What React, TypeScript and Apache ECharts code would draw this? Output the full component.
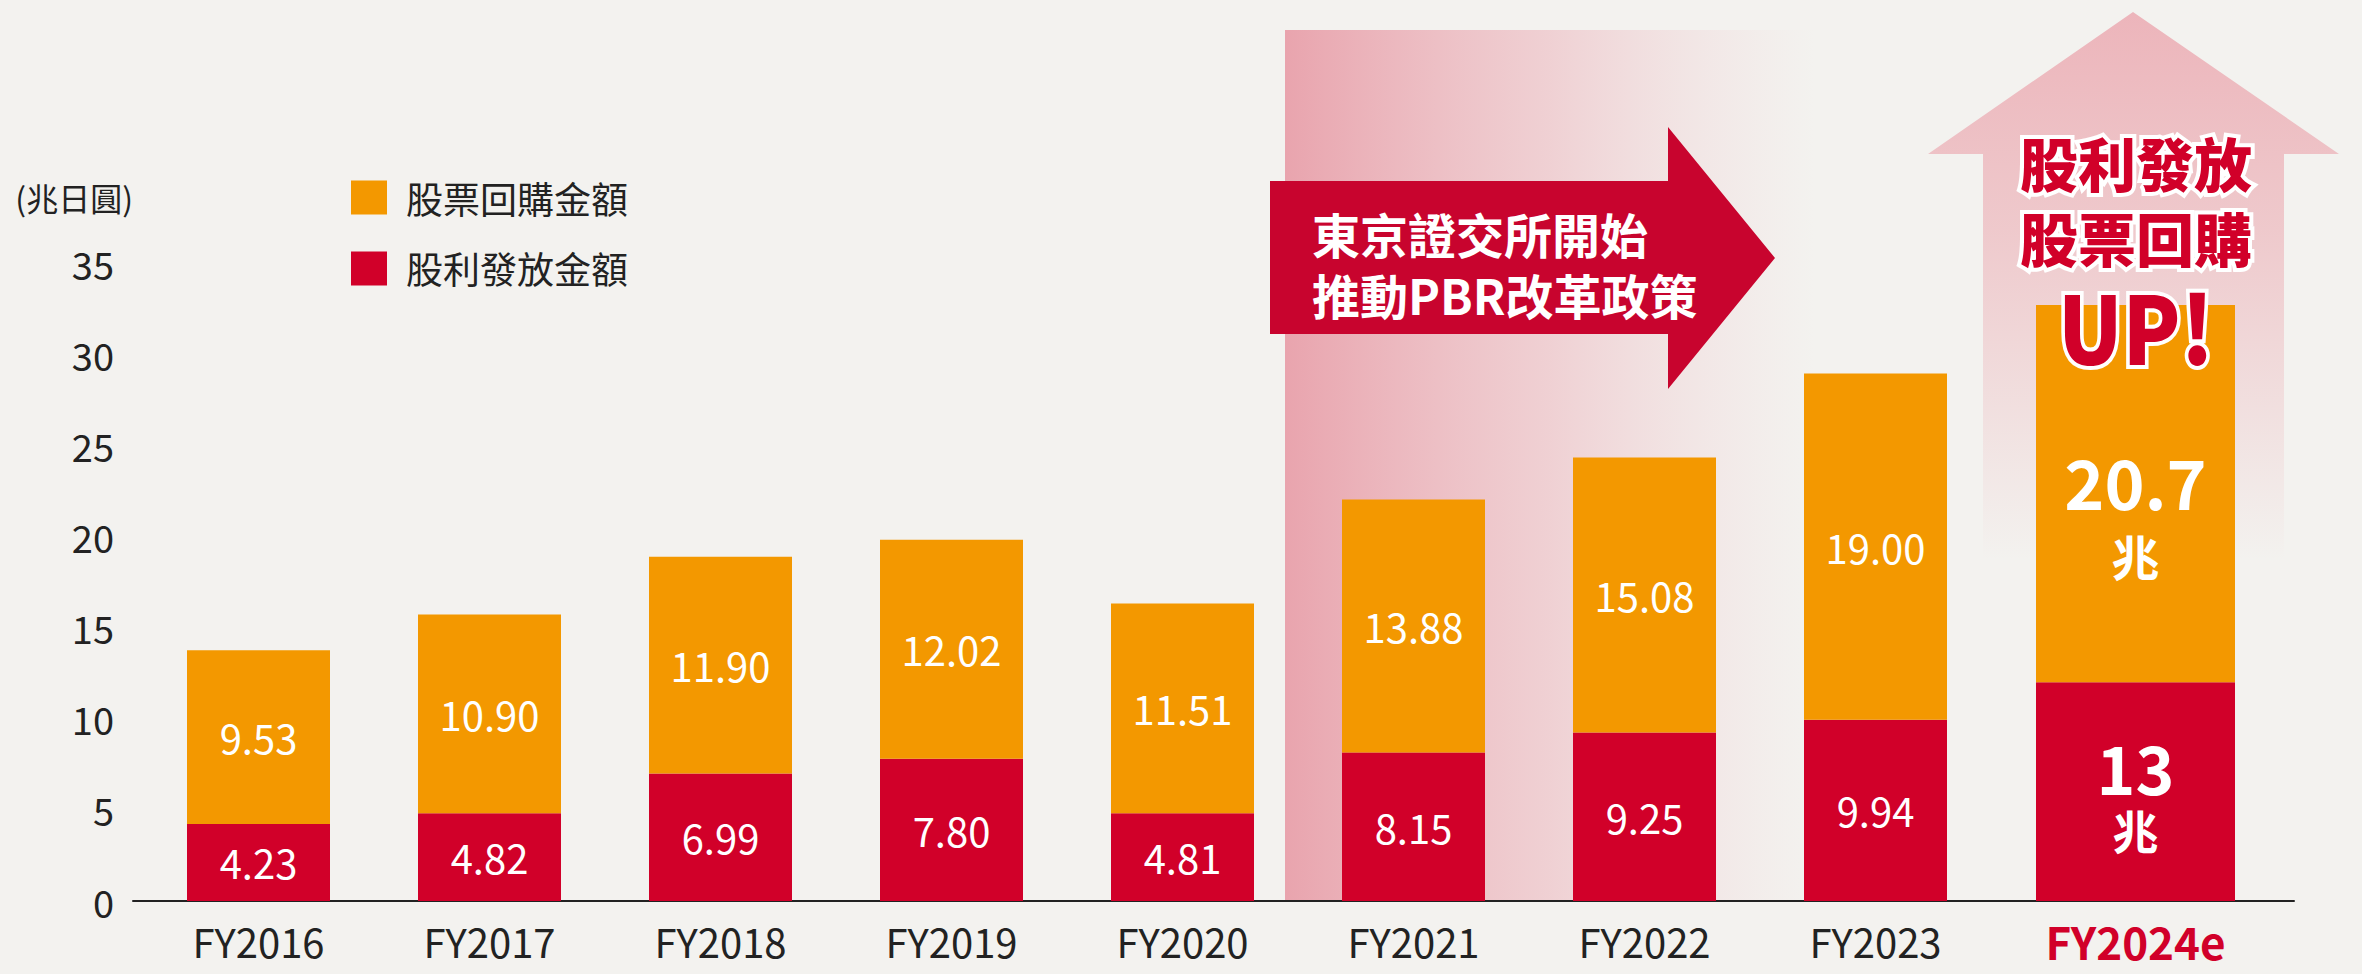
import React, { useEffect, useRef } from "react";
import * as echarts from "echarts";

const FONT = '"Noto Sans CJK TC", "Noto Sans", sans-serif';
const RED = "#D10029";
const ORANGE = "#F39800";

const BUY_NAME = "股票回購金額";
const DIV_NAME = "股利發放金額";

const categories = ["FY2016", "FY2017", "FY2018", "FY2019", "FY2020", "FY2021", "FY2022", "FY2023"];
const dividends = [4.23, 4.82, 6.99, 7.8, 4.81, 8.15, 9.25, 9.94];
const buybacks = [9.53, 10.9, 11.9, 12.02, 11.51, 13.88, 15.08, 19.0];

const estCategory = ["FY2024e"];
const estDividends = [12.0];
const estBuybacks = [20.7];
const estDividendLabels = ["13"];
const estBuybackLabels = ["20.7"];

const yMin = 0;
const yMax = 35;
const yInterval = 5;

export default function App() {
  const ref = useRef<HTMLDivElement>(null);

  useEffect(() => {
    document.body.style.margin = "0";
    document.body.style.overflow = "hidden";
    if (!ref.current) return;
    const chart = echarts.init(ref.current, undefined, { renderer: "svg" });

    const top = 263;
    const bottom = 73;

    const valueLabel = {
      show: true,
      position: "inside",
      color: "#fff",
      fontSize: 40,
      fontFamily: FONT,
      formatter: (p: any) => Number(p.value).toFixed(2),
    };

    const estLabel = (
      labels: string[],
      bigSize: number,
      bigLH: number,
      unitSize: number,
      unitLH: number,
      offsetY: number
    ) => ({
      show: true,
      position: "inside",
      offset: [0, offsetY],
      formatter: (p: any) => `{big|${labels[p.dataIndex]}}\n{unit|兆}`,
      rich: {
        big: { color: "#fff", fontSize: bigSize, fontWeight: "bold", fontFamily: FONT, lineHeight: bigLH },
        unit: { color: "#fff", fontSize: unitSize, fontWeight: "bold", fontFamily: FONT, lineHeight: unitLH },
      },
    });

    const upText = (text: string, y: number, size: number, scaleX = 1) => ({
      type: "text",
      z: 30,
      x: 2136,
      y,
      scaleX,
      style: {
        text,
        fill: RED,
        stroke: "#fff",
        lineWidth: 8,
        strokeFirst: true,
        font: `900 ${size}px ${FONT}`,
        align: "center",
        textAlign: "center",
        verticalAlign: "middle",
        textVerticalAlign: "middle",
      },
    });

    const option: any = {
      animation: false,
      backgroundColor: "#F3F2EF",
      textStyle: { fontFamily: FONT },
      legend: {
        data: [BUY_NAME, DIV_NAME],
        orient: "vertical",
        left: 346,
        top: 174,
        itemWidth: 36,
        itemHeight: 34,
        itemGap: 34,
        icon: "rect",
        selectedMode: false,
        textStyle: { fontSize: 37, color: "#222", padding: [0, 0, 0, 14], fontFamily: FONT },
      },
      grid: [
        { left: 143, width: 1848, top, bottom },
        { left: 1991, width: 289, top, bottom },
        { left: 133, right: 68, top, bottom },
      ],
      xAxis: [
        {
          type: "category",
          gridIndex: 0,
          data: categories,
          axisLine: { show: false },
          axisTick: { show: false },
          axisLabel: { fontSize: 40, color: "#222", margin: 20, fontFamily: FONT },
        },
        {
          type: "category",
          gridIndex: 1,
          data: estCategory,
          axisLine: { show: false },
          axisTick: { show: false },
          axisLabel: { fontSize: 44, fontWeight: "bold", color: RED, margin: 18, fontFamily: FONT },
        },
        {
          type: "value",
          gridIndex: 2,
          min: 0,
          max: 1,
          axisLine: { show: true, lineStyle: { color: "#222", width: 2 } },
          axisTick: { show: false },
          axisLabel: { show: false },
          splitLine: { show: false },
        },
      ],
      yAxis: [
        { type: "value", gridIndex: 0, min: yMin, max: yMax, interval: yInterval, show: false },
        { type: "value", gridIndex: 1, min: yMin, max: yMax, interval: yInterval, show: false },
        {
          type: "value",
          gridIndex: 2,
          min: yMin,
          max: yMax,
          interval: yInterval,
          name: "(兆日圓)",
          nameLocation: "end",
          nameGap: 50,
          nameTextStyle: { fontSize: 32, color: "#222", align: "right", fontFamily: FONT },
          axisLine: { show: false },
          axisTick: { show: false },
          splitLine: { show: false },
          axisLabel: { fontSize: 38, color: "#222", margin: 19, fontFamily: FONT },
        },
      ],
      series: [
        {
          name: DIV_NAME,
          type: "bar",
          stack: "a",
          xAxisIndex: 0,
          yAxisIndex: 0,
          barWidth: 143,
          data: dividends,
          itemStyle: { color: RED },
          label: valueLabel,
          z: 5,
        },
        {
          name: BUY_NAME,
          type: "bar",
          stack: "a",
          xAxisIndex: 0,
          yAxisIndex: 0,
          barWidth: 143,
          data: buybacks,
          itemStyle: { color: ORANGE },
          label: valueLabel,
          z: 5,
        },
        {
          name: DIV_NAME,
          type: "bar",
          stack: "b",
          xAxisIndex: 1,
          yAxisIndex: 1,
          barWidth: 199,
          data: estDividends,
          itemStyle: { color: RED },
          label: estLabel(estDividendLabels, 66, 70, 46, 56, 2),
          z: 5,
        },
        {
          name: BUY_NAME,
          type: "bar",
          stack: "b",
          xAxisIndex: 1,
          yAxisIndex: 1,
          barWidth: 199,
          data: estBuybacks,
          itemStyle: { color: ORANGE },
          label: estLabel(estBuybackLabels, 68, 82, 48, 66, 20),
          z: 5,
        },
      ],
      graphic: {
        elements: [
          {
            type: "rect",
            z: 0,
            shape: { x: 1285, y: 30, width: 530, height: 871 },
            style: {
              fill: new echarts.graphic.LinearGradient(0, 0, 1, 0, [
                { offset: 0, color: "rgba(226,112,130,0.6)" },
                { offset: 0.5, color: "rgba(232,140,155,0.33)" },
                { offset: 1, color: "rgba(240,180,190,0)" },
              ]),
            },
          },
          {
            type: "polygon",
            z: 1,
            shape: {
              points: [
                [2133, 12],
                [2339, 154],
                [2284, 154],
                [2284, 560],
                [1983, 560],
                [1983, 154],
                [1928, 154],
              ],
            },
            style: {
              fill: new echarts.graphic.LinearGradient(0, 0, 0, 1, [
                { offset: 0, color: "rgba(232,140,152,0.6)" },
                { offset: 0.4, color: "rgba(232,140,152,0.4)" },
                { offset: 1, color: "rgba(232,140,152,0)" },
              ]),
            },
          },
          {
            type: "polygon",
            z: 20,
            shape: {
              points: [
                [1270, 181],
                [1668, 181],
                [1668, 127],
                [1775, 258],
                [1668, 389],
                [1668, 334],
                [1270, 334],
              ],
            },
            style: { fill: "#C8042E" },
          },
          {
            type: "text",
            z: 21,
            x: 1312,
            y: 233,
            style: {
              text: "東京證交所開始",
              fill: "#fff",
              font: `bold 48px ${FONT}`,
              align: "left",
              textAlign: "left",
              verticalAlign: "middle",
              textVerticalAlign: "middle",
            },
          },
          {
            type: "text",
            z: 21,
            x: 1312,
            y: 294,
            style: {
              text: "推動PBR改革政策",
              fill: "#fff",
              font: `bold 48px ${FONT}`,
              align: "left",
              textAlign: "left",
              verticalAlign: "middle",
              textVerticalAlign: "middle",
            },
          },
          upText("股利發放", 162, 58),
          upText("股票回購", 237, 58),
          upText("UP!", 324, 94, 0.9),
        ],
      },
    };

    chart.setOption(option);
    return () => chart.dispose();
  }, []);

  return <div ref={ref} style={{ width: 2362, height: 974 }} />;
}
